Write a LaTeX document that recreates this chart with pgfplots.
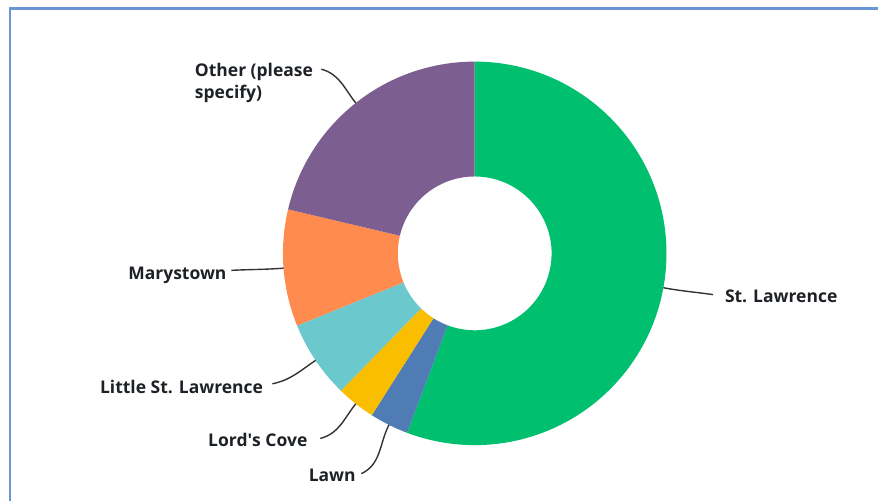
\documentclass[border=0pt]{standalone}
\usepackage{fontspec}
\setmainfont{Open Sans}
\usepackage{pgfplots}
\pgfplotsset{compat=1.18}
\definecolor{cStL}{HTML}{00BF6F}
\definecolor{cLawn}{HTML}{507CB6}
\definecolor{cLord}{HTML}{F9BE00}
\definecolor{cLittle}{HTML}{6BC8CD}
\definecolor{cMary}{HTML}{FF8B4F}
\definecolor{cOther}{HTML}{7D5E90}
\definecolor{frame}{HTML}{6A96D8}
\definecolor{txt}{HTML}{1E2226}
\definecolor{lead}{HTML}{333333}
\begin{document}
\begin{tikzpicture}
% response counts (St. Lawrence, Lawn, Lord's Cove, Little St. Lawrence, Marystown, Other)
\def\cA{34}\def\cB{2}\def\cC{2}\def\cD{4}\def\cE{6}\def\cF{13}
\pgfmathsetmacro{\tot}{\cA+\cB+\cC+\cD+\cE+\cF}
\pgfmathsetmacro{\aO}{90}
\pgfmathsetmacro{\aA}{\aO-360*\cA/\tot}
\pgfmathsetmacro{\aB}{\aA-360*\cB/\tot}
\pgfmathsetmacro{\aC}{\aB-360*\cC/\tot}
\pgfmathsetmacro{\aD}{\aC-360*\cD/\tot}
\pgfmathsetmacro{\aE}{\aD-360*\cE/\tot}
\pgfmathsetmacro{\aF}{\aE-360*\cF/\tot}
\def\cx{475.3}\def\cy{248.3}
\begin{axis}[width=879bp,height=502bp,scale only axis,
  xmin=0,xmax=879,ymin=0,ymax=502,axis lines=none,clip=false,
  ticks=none]
\fill[white] (axis cs:0,0) rectangle (axis cs:879,502);
\newcommand\slice[3]{%
  \fill[#3] (axis cs:\cx,\cy) ++(#1:192bp) arc[start angle=#1,end angle=#2,radius=192bp]
    -- ++(#2:-115bp) arc[start angle=#2,end angle=#1,radius=77bp] -- cycle;}
\slice{\aO}{\aA}{cStL}
\slice{\aA}{\aB}{cLawn}
\slice{\aB}{\aC}{cLord}
\slice{\aC}{\aD}{cLittle}
\slice{\aD}{\aE}{cMary}
\slice{\aE}{\aF}{cOther}
% frame
\draw[frame,line width=2.2bp] (axis cs:10,0) -- (axis cs:10,493.5) -- (axis cs:879,493.5);
% leader lines
\begin{scope}[lead,line width=1.4bp]
\draw (axis cs:714,207) to[out=172,in=-10.33] (axis cs:664.2,213.9);
\draw (axis cs:231.7,231.3) to[out=3,in=184.43] (axis cs:283.9,233.5);
\draw (axis cs:321.7,432.7) to[out=-15,in=128.36] (axis cs:356.2,398.9);
\draw (axis cs:272.7,117.7) to[out=12,in=213.93] (axis cs:316,141.2);
\draw (axis cs:320.7,63) to[out=15,in=231.64] (axis cs:356.2,97.7);
\draw (axis cs:361.7,27.7) to[out=25,in=243.44] (axis cs:389.4,76.6);
\end{scope}
% labels
\begin{scope}[every node/.style={inner sep=0pt,anchor=base west,text=txt,font=\fontsize{17.5bp}{22bp}\selectfont\bfseries}]
\node at (axis cs:725.7,198.7) {St. Lawrence};
\node at (axis cs:128.3,222) {Marystown};
\node at (axis cs:195,425.3) {Other (please};
\node at (axis cs:195,403.3) {specify)};
\node at (axis cs:100,107.7) {Little St. Lawrence};
\node at (axis cs:208.3,54.7) {Lord\textquotesingle s Cove};
\node at (axis cs:309,20.3) {Lawn};
\end{scope}
\end{axis}
\end{tikzpicture}
\end{document}
